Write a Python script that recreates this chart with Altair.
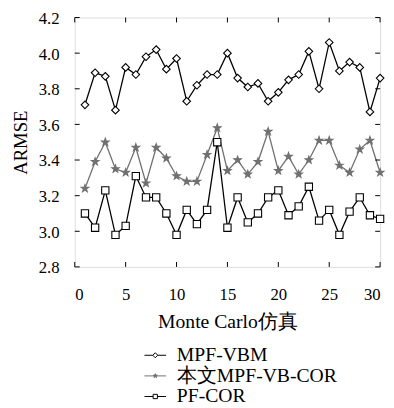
import altair as alt
import pandas as pd

runs = list(range(1, 31))
series_names = ["MPF-VBM", "本文MPF-VB-COR", "PF-COR"]
mpf_vbm = [3.71, 3.89, 3.87, 3.68, 3.92, 3.88, 3.98, 4.02, 3.91, 3.97, 3.73, 3.82, 3.88, 3.88, 4.00,
           3.86, 3.81, 3.83, 3.73, 3.78, 3.85, 3.88, 4.01, 3.80, 4.06, 3.90, 3.95, 3.92, 3.67, 3.86]
mpf_vb_cor = [3.24, 3.39, 3.50, 3.35, 3.33, 3.47, 3.27, 3.47, 3.41, 3.31, 3.28, 3.28, 3.43, 3.58, 3.34,
              3.40, 3.32, 3.39, 3.56, 3.34, 3.42, 3.32, 3.40, 3.51, 3.51, 3.37, 3.33, 3.46, 3.51, 3.33]
pf_cor = [3.10, 3.02, 3.23, 2.98, 3.03, 3.31, 3.19, 3.19, 3.10, 2.98, 3.12, 3.04, 3.12, 3.50, 3.02,
          3.19, 3.05, 3.10, 3.19, 3.23, 3.09, 3.14, 3.25, 3.06, 3.12, 2.98, 3.11, 3.19, 3.09, 3.07]
x_ticks = [0, 5, 10, 15, 20, 25, 30]
y_ticks = [2.8, 3.0, 3.2, 3.4, 3.6, 3.8, 4.0, 4.2]

FONT = "Liberation Serif"
W, H = 311, 254
GRAY = "#707070"

rows = []
for name, vals in zip(series_names, [mpf_vbm, mpf_vb_cor, pf_cor]):
    for r, v in zip(runs, vals):
        rows.append({"run": r, "value": v, "series": name})
df = pd.DataFrame(rows)
xt = pd.DataFrame({"v": x_ticks})
yt = pd.DataFrame({"v": y_ticks})

xs = alt.Scale(domain=[0, 30], nice=False, zero=False)
ys = alt.Scale(domain=[2.8, 4.2], nice=False, zero=False)
xa = alt.Axis(values=x_ticks, tickSize=0, labelPadding=20, titlePadding=10, grid=False, domain=False,
              labelFont=FONT, labelFontSize=17, titleFont=FONT, titleFontSize=20,
              titleFontWeight="normal", labelColor="black", titleColor="black")
ya = alt.Axis(values=y_ticks, format=".1f", tickSize=0, labelPadding=16, titlePadding=8, grid=False,
              domain=False, labelFont=FONT, labelFontSize=17, titleFont=FONT, titleFontSize=19,
              labelOffset=1, titleFontWeight="normal", labelColor="black", titleColor="black")


def xenc(f):
    return alt.X(f, type="quantitative", scale=xs, axis=xa, title="Monte Carlo仿真")


def yenc(f):
    return alt.Y(f, type="quantitative", scale=ys, axis=ya, title="ARMSE")


base = alt.Chart(df)
layers = []
styles = {
    "MPF-VBM": dict(color="black", shape="diamond", fill="white", size=60),
    "本文MPF-VB-COR": dict(color=GRAY, shape="M0,-1L0.235,-0.324L0.951,-0.309L0.38,0.124L0.588,0.809L0,0.4L-0.588,0.809L-0.38,0.124L-0.951,-0.309L-0.235,-0.324Z", fill=GRAY, size=65),
    "PF-COR": dict(color="black", shape="square", fill="white", size=55),
}
for name in series_names:
    st = styles[name]
    sub = base.transform_filter(alt.datum.series == name)
    layers.append(sub.mark_line(color=st["color"], strokeWidth=1.3).encode(x=xenc("run"), y=yenc("value")))
for name in series_names:
    st = styles[name]
    sub = base.transform_filter(alt.datum.series == name)
    layers.append(sub.mark_point(shape=st["shape"], filled=True, fill=st["fill"], stroke=st["color"],
                                 strokeWidth=1.1, size=st["size"], opacity=1)
                  .encode(x=xenc("run"), y=yenc("value")))

# inward ticks on all four sides
tl = 5
layers.append(alt.Chart(xt).mark_rule(color="black", strokeWidth=1).encode(x=xenc("v"), y=alt.value(H), y2=alt.value(H - tl)))
layers.append(alt.Chart(xt).mark_rule(color="black", strokeWidth=1).encode(x=xenc("v"), y=alt.value(0), y2=alt.value(tl)))
layers.append(alt.Chart(yt).mark_rule(color="black", strokeWidth=1).encode(y=yenc("v"), x=alt.value(0), x2=alt.value(tl)))
layers.append(alt.Chart(yt).mark_rule(color="black", strokeWidth=1).encode(y=yenc("v"), x=alt.value(W), x2=alt.value(W - tl)))

# legend layer (no visible marks)
leg_shapes = [
    "M-1.5,0L-0.35,0M0.35,0L1.5,0M0,-0.35L0.35,0L0,0.35L-0.35,0Z",
    "M-1.5,0L1.5,0M0,-0.3L0.07,-0.1L0.29,-0.09L0.11,0.04L0.18,0.24L0,0.12L-0.18,0.24L-0.11,0.04L-0.29,-0.09L-0.07,-0.1Z",
    "M-1.5,0L-0.3,0M0.3,0L1.5,0M-0.3,-0.3L0.3,-0.3L0.3,0.3L-0.3,0.3Z",
]
legend = alt.Legend(orient="none", legendX=72, legendY=334, title=None, labelFont=FONT, labelFontSize=20,
                    labelColor="black", symbolSize=215, symbolStrokeWidth=1, symbolOpacity=1,
                    rowPadding=1, labelOffset=12, labelLimit=400)
leg_layer = alt.Chart(df).transform_filter("false").mark_point(filled=True, opacity=1).encode(
    x=xenc("run"), y=yenc("value"),
    shape=alt.Shape("series:N", scale=alt.Scale(domain=series_names, range=leg_shapes), legend=legend),
    stroke=alt.Stroke("series:N", scale=alt.Scale(domain=series_names, range=["black", GRAY, "black"]), legend=legend),
    fill=alt.Fill("series:N", scale=alt.Scale(domain=series_names, range=["white", GRAY, "white"]), legend=legend),
)
layers.append(leg_layer)

chart = alt.layer(*layers).properties(
    width=W, height=H,
    autosize=alt.AutoSizeParams(type="none"),
    padding={"left": 68, "top": 6, "right": 6, "bottom": 140},
).configure_view(stroke="black", strokeWidth=1).configure(background="white")

chart.save("out.html", embed_options={"renderer": "svg", "actions": False})
